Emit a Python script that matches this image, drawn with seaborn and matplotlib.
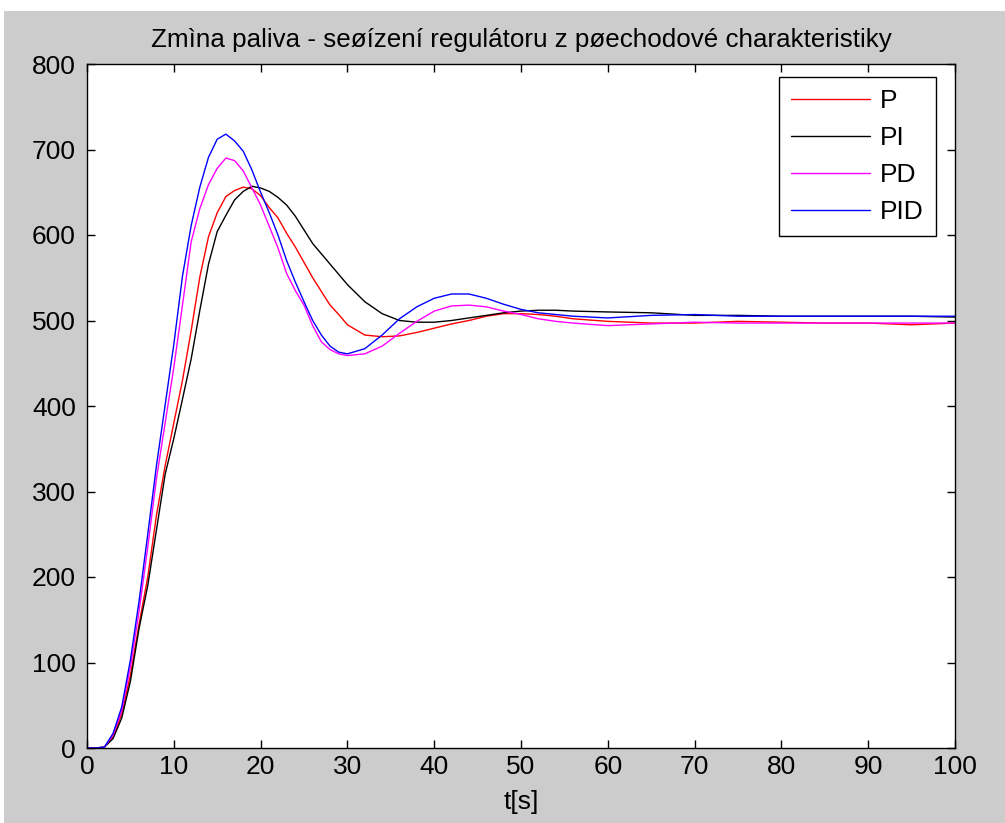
import matplotlib
matplotlib.use("Agg")
import matplotlib.pyplot as plt
from matplotlib.patches import Rectangle
import seaborn as sns
import pandas as pd

# ---- data ----
t = [0, 1, 2, 3, 4, 5, 6, 7, 8, 9, 10, 11, 12, 13, 14, 15, 16, 17, 18, 19, 20,
     21, 22, 23, 24, 25, 26, 27, 28, 29, 30, 32, 34, 36, 38, 40, 42, 44, 46, 48,
     50, 52, 54, 56, 60, 65, 70, 75, 80, 85, 90, 95, 100]

p_vals = [0, 0, 1, 13, 40, 85, 145, 200, 272, 330, 380, 430, 488, 551, 598, 626,
          645, 652, 656, 654, 646, 632, 620, 602, 586, 568, 550, 534, 518, 507,
          495, 483, 481, 482, 486, 491, 496, 500, 505, 508, 508, 507, 505, 502,
          499, 497, 497, 499, 498, 497, 497, 495, 497]

pi_vals = [0, 0, 1, 11, 35, 78, 140, 190, 255, 320, 362, 408, 455, 512, 566, 604,
           623, 641, 651, 657, 655, 651, 644, 635, 622, 606, 590, 578, 566, 554,
           542, 522, 508, 500, 498, 498, 500, 503, 506, 509, 511, 512, 512, 511,
           510, 509, 506, 506, 505, 505, 505, 505, 504]

pd_vals = [0, 0, 1, 15, 44, 95, 160, 235, 315, 380, 445, 518, 592, 631, 659, 678,
           690, 687, 675, 655, 635, 610, 585, 555, 535, 518, 494, 475, 466, 461,
           459, 461, 470, 485, 499, 511, 517, 518, 516, 511, 507, 502, 499, 497,
           494, 496, 498, 497, 497, 497, 497, 497, 497]

pid_vals = [0, 0, 1, 17, 48, 103, 172, 250, 330, 401, 472, 552, 611, 656, 691, 712,
            718, 710, 698, 676, 650, 626, 600, 570, 545, 522, 500, 483, 470, 463,
            461, 467, 483, 502, 516, 526, 531, 531, 526, 519, 513, 509, 507, 505,
            503, 506, 507, 505, 505, 505, 505, 505, 505]

series_names = ["P", "PI", "PD", "PID"]
series_colors = ["#ff0000", "#000000", "#ff00ff", "#0000ff"]

title_text = "Zmìna paliva - seøízení regulátoru z pøechodové charakteristiky"
xlabel_text = "t[s]"
xticks = [0, 10, 20, 30, 40, 50, 60, 70, 80, 90, 100]
yticks = [0, 100, 200, 300, 400, 500, 600, 700, 800]

# ---- long-form table ----
frames = []
for name, vals in zip(series_names, [p_vals, pi_vals, pd_vals, pid_vals]):
    frames.append(pd.DataFrame({"t": t, "value": vals, "regulator": name}))
df = pd.concat(frames, ignore_index=True)

sns.set_theme(style="white")
plt.rcParams["font.family"] = ["Liberation Sans", "DejaVu Sans"]
plt.rcParams["text.color"] = "black"
plt.rcParams["axes.labelcolor"] = "black"
plt.rcParams["axes.titlecolor"] = "black"
plt.rcParams["xtick.color"] = "black"
plt.rcParams["ytick.color"] = "black"
plt.rcParams["xtick.direction"] = "in"
plt.rcParams["ytick.direction"] = "in"

W, H = 1005, 823
fig = plt.figure(figsize=(W / 100, H / 100), dpi=100, facecolor="white")
fig.patches.append(Rectangle((4 / W, 0), 1 - 4 / W, 1 - 11 / H,
                             transform=fig.transFigure, facecolor="#cccccc",
                             edgecolor="none", zorder=-10))

ax = fig.add_axes([87 / W, 1 - 748 / H, (955 - 87) / W, (748 - 64) / H])
ax.set_facecolor("white")

sns.lineplot(data=df, x="t", y="value", hue="regulator",
             hue_order=series_names, palette=series_colors,
             linewidth=1.0, ax=ax, estimator=None, sort=False)

ax.set_xlim(0, 100)
ax.set_ylim(0, 800)
ax.set_xticks(xticks)
ax.set_yticks(yticks)
ax.tick_params(axis="both", which="both", direction="in", length=6, width=1,
               colors="black", labelcolor="black", labelsize=19,
               top=True, right=True, bottom=True, left=True)
ax.tick_params(axis="x", pad=5)
ax.tick_params(axis="y", pad=8)
for s in ax.spines.values():
    s.set_visible(True)
    s.set_color("black")
    s.set_linewidth(1.0)

ax.set_title(title_text, fontsize=18.7, pad=12, color="black")
ax.set_xlabel(xlabel_text, fontsize=19, labelpad=8, color="black")
ax.set_ylabel("")

handles, labels = ax.get_legend_handles_labels()
leg = ax.legend(handles, labels, loc="upper right",
                bbox_to_anchor=((936 - 87) / 868, (748 - 77) / 684),
                borderaxespad=0, frameon=True, fancybox=False, shadow=False,
                fontsize=19, handlelength=3.0, handletextpad=0.4,
                labelspacing=0.5, borderpad=0.45)
leg.get_frame().set_edgecolor("black")
leg.get_frame().set_linewidth(1.0)
leg.get_frame().set_facecolor("white")
leg.get_frame().set_alpha(1)
for line in leg.get_lines():
    line.set_linewidth(1.0)
for txt in leg.get_texts():
    txt.set_color("black")

fig.savefig("out.png", dpi=100, facecolor=fig.get_facecolor())
